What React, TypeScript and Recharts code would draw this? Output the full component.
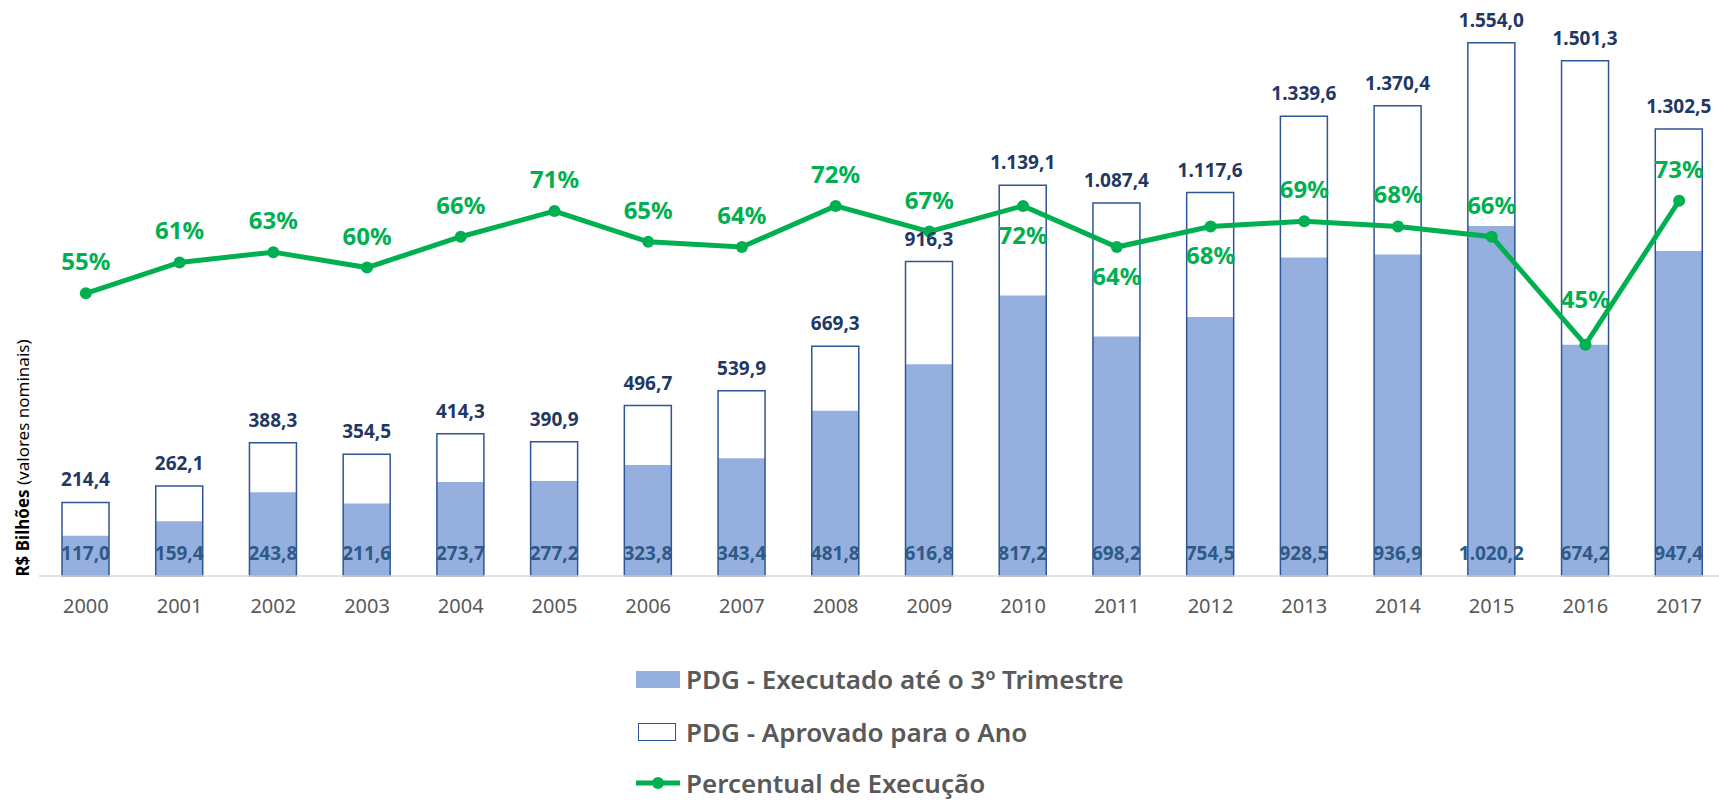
import { ComposedChart, Bar, Line, XAxis, YAxis, LabelList } from "recharts"

const years = ["2000", "2001", "2002", "2003", "2004", "2005", "2006", "2007", "2008", "2009", "2010", "2011", "2012", "2013", "2014", "2015", "2016", "2017"]
const aprovado = [214.4, 262.1, 388.3, 354.5, 414.3, 390.9, 496.7, 539.9, 669.3, 916.3, 1139.1, 1087.4, 1117.6, 1339.6, 1370.4, 1554.0, 1501.3, 1302.5]
const executado = [117.0, 159.4, 243.8, 211.6, 273.7, 277.2, 323.8, 343.4, 481.8, 616.8, 817.2, 698.2, 754.5, 928.5, 936.9, 1020.2, 674.2, 947.4]
const percentual = [55, 61, 63, 60, 66, 71, 65, 64, 72, 67, 72, 64, 68, 69, 68, 66, 45, 73]
// where each percent label sits relative to its point
const labelSide = ["up", "up", "up", "up", "up", "up", "up", "up", "up", "up", "down", "down", "down", "up", "up", "up", "up", "up"]

const data = years.map((year, i) => ({
  year,
  aprovado: aprovado[i],
  executado: executado[i],
  percentual: percentual[i],
}))

const FONT = '"Noto Sans", "Open Sans", sans-serif'
const GREEN = "#00B050"
const FILL = "#95B0DE"
const BORDER = "#2F5597"

function fmt(v: number) {
  const [int, dec] = v.toFixed(1).split(".")
  return int.replace(/\B(?=(\d{3})+(?!\d))/g, ".") + "," + dec
}

function TopLabel(props: any) {
  const { x, y, width, value } = props
  return (
    <text x={x + width / 2} y={y - 16} textAnchor="middle" fontFamily={FONT} fontSize={19} fontWeight={700} fill="#1F3864">
      {fmt(value)}
    </text>
  )
}

function BottomLabel(props: any) {
  const { x, y, width, height, value } = props
  return (
    <text x={x + width / 2} y={y + height - 16} textAnchor="middle" fontFamily={FONT} fontSize={19} fontWeight={700} fill="#2E5A87">
      {fmt(value)}
    </text>
  )
}

function PctLabel(props: any) {
  const { x, y, value, index } = props
  const down = labelSide[index] === "down"
  const extra = index === 16 ? 14 : 0
  return (
    <text x={x} y={down ? y + 38 : y - 23 - extra} textAnchor="middle" fontFamily={FONT} fontSize={24} fontWeight={700} fill={GREEN}>
      {value}%
    </text>
  )
}

function YearTick(props: any) {
  const { x, y, payload } = props
  return (
    <text x={x} y={y + 37} textAnchor="middle" fontFamily={FONT} fontSize={20} fill="#595959">
      {payload.value}
    </text>
  )
}

function LegendRow({ top, kind, text }: { top: number; kind: "fill" | "box" | "line"; text: string }) {
  let marker = null
  if (kind === "fill") marker = <div style={{ width: 44, height: 17, background: FILL }} />
  if (kind === "box") marker = <div style={{ width: 36, height: 16, border: `1.5px solid ${BORDER}`, margin: "0 4px 0 2px" }} />
  if (kind === "line")
    marker = (
      <svg width={44} height={14}>
        <line x1={0} y1={7} x2={44} y2={7} stroke={GREEN} strokeWidth={5} />
        <circle cx={22} cy={7} r={6} fill={GREEN} />
      </svg>
    )
  return (
    <div style={{ position: "absolute", left: 636, top: top - 15, height: 30, display: "flex", alignItems: "center", gap: 6 }}>
      {marker}
      <span style={{ fontFamily: FONT, fontSize: 26, lineHeight: "30px", fontWeight: 600, color: "#595959", whiteSpace: "nowrap" }}>{text}</span>
    </div>
  )
}

export default function App() {
  return (
    <div style={{ position: "fixed", left: 0, top: 0, width: 1719, height: 803, overflow: "hidden", background: "#fff" }}>
      <ComposedChart width={1726} height={803} data={data} margin={{ top: 27, right: 0, bottom: 197, left: 39 }}>
        <XAxis
          xAxisId="a"
          dataKey="year"
          height={30}
          tickSize={0}
          tickMargin={0}
          tickLine={false}
          axisLine={{ stroke: "#D9D9D9", strokeWidth: 1.5 }}
          tick={<YearTick />}
        />
        <XAxis xAxisId="b" dataKey="year" hide />
        <YAxis yAxisId="left" domain={[0, 1600]} hide />
        <YAxis yAxisId="right" orientation="right" domain={[0, 106.8]} hide />
        <Bar xAxisId="a" yAxisId="left" dataKey="executado" barSize={47} fill={FILL} isAnimationActive={false}>
          <LabelList dataKey="executado" content={<BottomLabel />} />
        </Bar>
        <Bar xAxisId="b" yAxisId="left" dataKey="aprovado" barSize={47} fill="none" stroke={BORDER} strokeWidth={1.5} isAnimationActive={false}>
          <LabelList dataKey="aprovado" content={<TopLabel />} />
        </Bar>
        <Line
          xAxisId="a"
          yAxisId="right"
          type="linear"
          dataKey="percentual"
          stroke={GREEN}
          strokeWidth={5}
          dot={{ r: 6, fill: GREEN, stroke: "none" }}
          isAnimationActive={false}
        >
          <LabelList dataKey="percentual" content={<PctLabel />} />
        </Line>
      </ComposedChart>
      <div
        style={{
          position: "absolute",
          left: 22,
          top: 458,
          transform: "translate(-50%, -50%) rotate(-90deg)",
          fontFamily: FONT,
          fontSize: 17,
          color: "#000",
          whiteSpace: "nowrap",
        }}
      >
        <b>R$ Bilhões</b> (valores nominais)
      </div>
      <LegendRow top={679} kind="fill" text="PDG - Executado até o 3º Trimestre" />
      <LegendRow top={732} kind="box" text="PDG - Aprovado para o Ano" />
      <LegendRow top={783} kind="line" text="Percentual de Execução" />
    </div>
  )
}
